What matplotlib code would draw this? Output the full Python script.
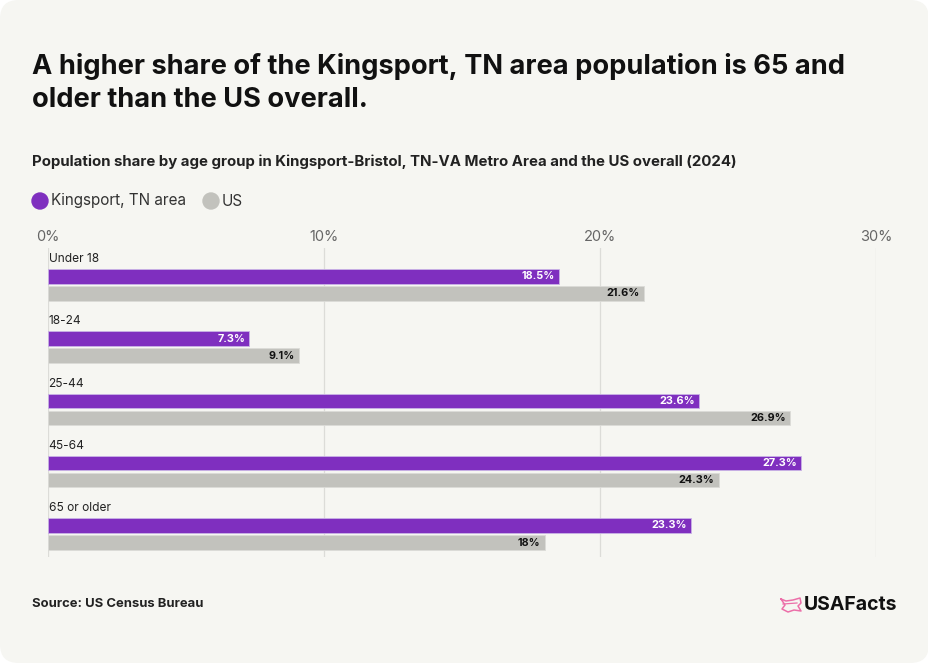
import numpy as np
import matplotlib.pyplot as plt
from matplotlib.patches import FancyBboxPatch, Ellipse

plt.rcParams['font.family'] = ['Inter', 'DejaVu Sans']

# data
age_groups = ["Under 18", "18-24", "25-44", "45-64", "65 or older"]
kingsport = [18.5, 7.3, 23.6, 27.3, 23.3]
us = [21.6, 9.1, 26.9, 24.3, 18.0]
kingsport_labels = ["18.5%", "7.3%", "23.6%", "27.3%", "23.3%"]
us_labels = ["21.6%", "9.1%", "26.9%", "24.3%", "18%"]
xticks = [0, 10, 20, 30]
xtick_labels = ["0%", "10%", "20%", "30%"]

purple = "#7f2fbf"
grey = "#c2c2bd"
bg = "#f6f6f2"

W, H = 929, 663
fig = plt.figure(figsize=(W / 100, H / 100), dpi=100)
fig.patch.set_facecolor("white")
card = FancyBboxPatch((0, 0), 1, 1, boxstyle="round,pad=0,rounding_size=0.02",
                      transform=fig.transFigure, facecolor=bg, edgecolor="none",
                      mutation_aspect=W / H, zorder=-5)
fig.patches.append(card)

def fx(px): return px / W
def fy(py): return 1 - py / H

# axes: x 48..876 px, y 248..557 px
top, bottom = 248, 557
ax = fig.add_axes([fx(48), fy(bottom), fx(876) - fx(48), (bottom - top) / H])
ax.set_facecolor("none")
step = 62.3
ax.set_xlim(0, 30)
ax.set_ylim((bottom - top) / step, 0)

g = np.arange(len(age_groups))
y_p = (276.3 - top) / step + g
y_u = (293.3 - top) / step + g
y_lab = (259 - top) / step + g
h = 14.5 / step

ax.barh(y_p, kingsport, height=h, color=purple, edgecolor="#c9b3e6", linewidth=0.6, zorder=3)
ax.barh(y_u, us, height=h, color=grey, edgecolor="#dcdcd8", linewidth=0.6, zorder=3)

for yy, v, s in zip(y_p, kingsport, kingsport_labels):
    ax.text(v - 0.15, yy, s, ha="right", va="center", color="white",
            fontsize=7.8, fontweight="bold", zorder=4)
for yy, v, s in zip(y_u, us, us_labels):
    ax.text(v - 0.15, yy, s, ha="right", va="center", color="#111111",
            fontsize=7.8, fontweight="bold", zorder=4)
for yy, s in zip(y_lab, age_groups):
    ax.text(0.02, yy, s, ha="left", va="center", color="#222222", fontsize=8.6)

ax.set_xticks(xticks)
ax.set_xticklabels(xtick_labels, color="#666666", fontsize=10.5)
ax.xaxis.tick_top()
ax.tick_params(axis="x", length=0, pad=3)
ax.set_yticks([])
ax.grid(axis="x", color="#dcdcd8", linewidth=0.9, zorder=0)
for sp in ax.spines.values():
    sp.set_visible(False)

# titles
fig.text(fx(32), fy(67), "A higher share of the Kingsport, TN area population is 65 and",
         fontsize=19.6, fontweight="bold", color="#111111", va="center")
fig.text(fx(32), fy(100), "older than the US overall.",
         fontsize=19.6, fontweight="bold", color="#111111", va="center")
fig.text(fx(32), fy(162), "Population share by age group in Kingsport-Bristol, TN-VA Metro Area and the US overall (2024)",
         fontsize=10.8, fontweight="bold", color="#222222", va="center")

# legend
fig.patches.append(Ellipse((fx(40), fy(201)), 16 / W, 16 / H, transform=fig.transFigure,
                           color=purple))
fig.text(fx(51), fy(201), "Kingsport, TN area", fontsize=11, color="#333333", va="center")
fig.patches.append(Ellipse((fx(211), fy(201)), 16 / W, 16 / H, transform=fig.transFigure,
                           color=grey))
fig.text(fx(222), fy(201), "US", fontsize=11, color="#333333", va="center")

# footer
fig.text(fx(32), fy(604), "Source: US Census Bureau", fontsize=9.4, fontweight="bold",
         color="#222222", va="center")
fig.text(fx(897), fy(605), "USAFacts", fontsize=14, fontweight="bold",
         color="#111111", va="center", ha="right")
lx = [781, 786, 793, 800, 801, 798, 801, 794, 788, 782, 785, 781]
ly = [599, 601, 600, 598, 603, 606, 611, 610, 612, 609, 605, 599]
fig.lines.append(plt.Line2D([fx(v) for v in lx], [fy(v) for v in ly],
                            transform=fig.transFigure, color="#ec6fa9", linewidth=1.1))
fig.lines.append(plt.Line2D([fx(783), fx(797)], [fy(604), fy(603)],
                            transform=fig.transFigure, color="#ec6fa9", linewidth=0.9))

fig.savefig("out.png", dpi=100, facecolor=fig.get_facecolor())
